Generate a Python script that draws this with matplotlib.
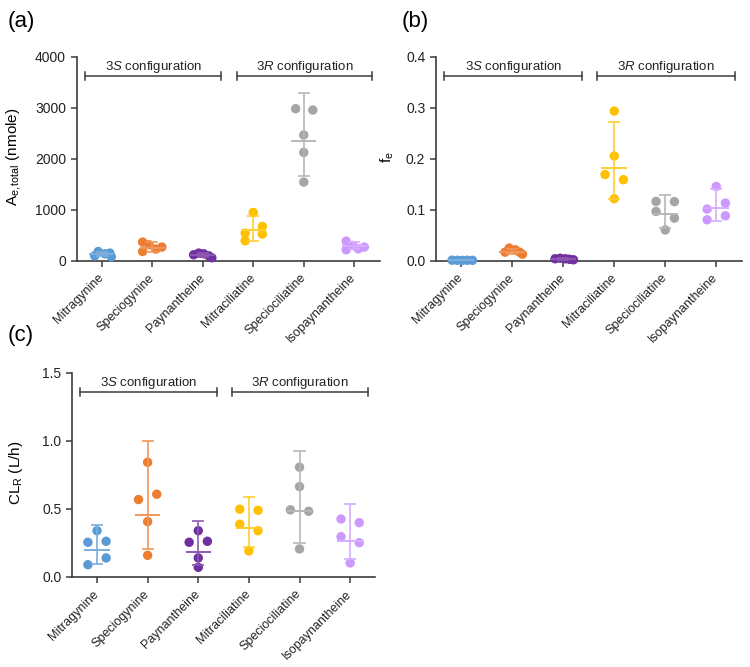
import numpy as np
import matplotlib
matplotlib.use('Agg')
import matplotlib.pyplot as plt

plt.rcParams['font.family'] = ['Liberation Sans', 'DejaVu Sans']
plt.rcParams['mathtext.fontset'] = 'custom'
plt.rcParams['mathtext.rm'] = 'Liberation Sans'
plt.rcParams['mathtext.it'] = 'Liberation Sans:italic'

compounds = ['Mitragynine', 'Speciogynine', 'Paynantheine',
             'Mitraciliatine', 'Speciociliatine', 'Isopaynantheine']
colors = ['#5B9BD5', '#ED7D31', '#7030A0', '#FFC000', '#A5A5A5', '#CC99FF']

# (a) total amount excreted, nmole (5 subjects per compound)
ae_vals = [[98, 182, 137, 151, 78],
           [367, 182, 314, 229, 269],
           [118, 151, 137, 98, 59],
           [947, 543, 392, 673, 523],
           [2981, 2955, 2465, 2124, 1543],
           [386, 216, 300, 235, 269]]
ae_mid = [125, 255, 105, 595, 2347, 290]
ae_lo = [85, 175, 70, 395, 1667, 230]
ae_hi = [170, 372, 150, 882, 3288, 360]

# (b) fraction excreted
fe_vals = [[0.0012, 0.0010, 0.0008, 0.0011, 0.0009],
           [0.017, 0.0249, 0.0216, 0.017, 0.013],
           [0.004, 0.005, 0.004, 0.003, 0.002],
           [0.2934, 0.2053, 0.169, 0.159, 0.1217],
           [0.1164, 0.1160, 0.0967, 0.0836, 0.0605],
           [0.1457, 0.1131, 0.1014, 0.0882, 0.0804]]
fe_mid = [0.001, 0.018, 0.0036, 0.1816, 0.0921, 0.1035]
fe_lo = [0.0008, 0.014, 0.0025, 0.1217, 0.0651, 0.0783]
fe_hi = [0.0013, 0.023, 0.005, 0.2717, 0.128, 0.1398]

# (c) renal clearance, L/h
cl_vals = [[0.340, 0.255, 0.262, 0.140, 0.090],
           [0.843, 0.569, 0.608, 0.407, 0.159],
           [0.340, 0.255, 0.262, 0.140, 0.071],
           [0.498, 0.490, 0.387, 0.340, 0.191],
           [0.807, 0.664, 0.493, 0.483, 0.206],
           [0.426, 0.399, 0.296, 0.252, 0.103]]
cl_mid = [0.196, 0.453, 0.184, 0.363, 0.485, 0.265]
cl_lo = [0.098, 0.208, 0.086, 0.223, 0.252, 0.132]
cl_hi = [0.382, 1.0, 0.414, 0.586, 0.924, 0.537]

# horizontal scatter offsets (category units), like the prism layout
off_a = [[-0.14, -0.07, 0.06, 0.16, 0.19],
         [-0.19, -0.19, -0.06, 0.07, 0.19],
         [-0.18, -0.08, 0.02, 0.12, 0.18],
         [0, -0.16, -0.16, 0.18, 0.18],
         [-0.16, 0.18, 0, 0, 0],
         [-0.16, -0.16, -0.03, 0.08, 0.2]]
off_b = [[-0.18, -0.08, 0.02, 0.12, 0.22],
         [-0.14, -0.06, 0.06, 0.14, 0.2],
         [-0.16, -0.06, 0.04, 0.12, 0.2],
         [0, 0, -0.18, 0.18, 0],
         [-0.18, 0.18, -0.18, 0.18, 0],
         [0, 0.18, -0.18, 0.18, -0.18]]
off_c = [[0, -0.18, 0.18, 0.18, -0.18],
         [0, -0.18, 0.18, 0, 0],
         [0, -0.18, 0.18, 0, 0],
         [-0.18, 0.18, -0.18, 0.18, 0],
         [0, 0, -0.18, 0.18, 0],
         [-0.18, 0.18, -0.18, 0.18, 0]]

dark = '#3c3c3c'


def lighten(c, f=0.2):
    rgb = np.array(matplotlib.colors.to_rgb(c))
    return tuple(rgb + (1 - rgb) * f)


def panel(ax, vals, mid, lo, hi, offs, ymax, yticks, ylabel, fmt, lab_x):
    x = np.arange(len(compounds))
    for i in range(len(compounds)):
        ax.scatter(x[i] + np.array(offs[i]), vals[i], s=46, color=colors[i],
                   edgecolors='none', zorder=3, clip_on=False)
        lc = lighten(colors[i])
        ax.vlines(x[i], lo[i], hi[i], color=lc, lw=1.2, zorder=4)
        ax.hlines([lo[i], hi[i]], x[i] - 0.12, x[i] + 0.12, color=lc, lw=1.2, zorder=4)
        ax.hlines(mid[i], x[i] - 0.25, x[i] + 0.25, color=lc, lw=1.4, zorder=4)
    ax.set_xlim(-0.5, 5.5)
    ax.set_ylim(0, ymax)
    ax.set_yticks(yticks)
    ax.set_yticklabels([fmt.format(t) for t in yticks])
    ax.set_xticks(x)
    ax.set_xticklabels(compounds, rotation=45, ha='right', va='center',
                       rotation_mode='anchor', fontsize=9)
    for s in ['top', 'right']:
        ax.spines[s].set_visible(False)
    for s in ['left', 'bottom']:
        ax.spines[s].set_color(dark)
        ax.spines[s].set_linewidth(1.2)
    ax.tick_params(direction='out', length=4, width=1.1, color=dark,
                   labelsize=10, labelcolor='#222222')
    ax.tick_params(axis='x', pad=7, labelsize=9)
    ax.set_ylabel(ylabel, fontsize=11)
    ax.yaxis.set_label_coords(lab_x, 0.51)
    # configuration brackets
    tr = ax.get_xaxis_transform()
    for x0, x1, txt in [(-0.33, 2.37, '3$\\mathit{S}$ configuration'),
                        (2.67, 5.36, '3$\\mathit{R}$ configuration')]:
        ax.plot([x0, x1], [0.905, 0.905], color=dark, lw=1.1, transform=tr, clip_on=False)
        for xe in (x0, x1):
            ax.plot([xe, xe], [0.885, 0.925], color=dark, lw=1.1, transform=tr, clip_on=False)
        ax.text((x0 + x1) / 2, 0.95, txt, transform=tr, ha='center', va='center',
                fontsize=9.5, color='#222222')


fig = plt.figure(figsize=(7.5, 6.67), dpi=100)
ax_a = fig.add_axes([0.102, 0.609, 0.404, 0.306])
ax_b = fig.add_axes([0.581, 0.609, 0.408, 0.306])
ax_c = fig.add_axes([0.0956, 0.135, 0.405, 0.306])

panel(ax_a, ae_vals, ae_mid, ae_lo, ae_hi, off_a, 4000, [0, 1000, 2000, 3000, 4000],
      'A$_{\\mathrm{e,total}}$ (nmole)', '{:.0f}', -0.175)
panel(ax_b, fe_vals, fe_mid, fe_lo, fe_hi, off_b, 0.4, [0, 0.1, 0.2, 0.3, 0.4],
      'f$_{\\mathrm{e}}$', '{:.1f}', -0.13)
panel(ax_c, cl_vals, cl_mid, cl_lo, cl_hi, off_c, 1.5, [0, 0.5, 1.0, 1.5],
      'CL$_{\\mathrm{R}}$ (L/h)', '{:.1f}', -0.155)

fig.text(0.010, 0.968, '(a)', fontsize=16, va='center')
fig.text(0.535, 0.968, '(b)', fontsize=16, va='center')
fig.text(0.010, 0.497, '(c)', fontsize=16, va='center')

fig.savefig('out.png', dpi=100)
